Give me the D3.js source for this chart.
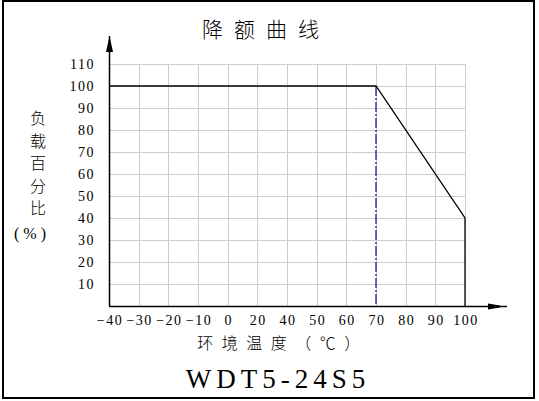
<!DOCTYPE html>
<html>
<head>
<meta charset="utf-8">
<script src="https://cdn.jsdelivr.net/npm/d3@7"></script>
<style>
  body { margin: 0; background: #fff; }
  svg text { fill: #000; }
</style>
</head>
<body>
<svg id="chart" width="539" height="401"></svg>
<script>
// category ticks along the temperature axis (not evenly spaced in value)
var xTicks = ["-40", "-30", "-20", "-10", "0", "20", "40", "50", "60", "70", "80", "90", "100"];
var yTicks = [10, 20, 30, 40, 50, 60, 70, 80, 90, 100, 110];
// derating curve: temperature category -> load %
var curveTemp = ["-40", "70", "100", "100"];
var curveLoad = [100, 100, 40, 0];
var kneeTemp = "70";
var kneeLoad = 100;

var title = "降额曲线";
var yLabel = ["负", "载", "百", "分", "比", "(%)"];
var xLabel = "环境温度（℃）";
var model = "WDT5-24S5";

var svg = d3.select('#chart');
var margin = {top: 64, left: 109, right: 465, bottom: 306};

var x = d3.scalePoint()
    .domain(xTicks)
    .range([margin.left, margin.right]);
var y = d3.scaleLinear()
    .domain([0, 110])
    .range([margin.bottom, margin.top]);

// outer frame
svg.append('rect')
    .attr('x', 3).attr('y', 1)
    .attr('width', 531).attr('height', 397)
    .attr('fill', 'none')
    .attr('stroke', '#000')
    .attr('stroke-width', 2);

// grid
svg.append('g').selectAll('line.h')
    .data(yTicks)
    .enter().append('line')
        .attr('x1', margin.left).attr('x2', margin.right)
        .attr('y1', function(d){ return y(d) + 0.5; })
        .attr('y2', function(d){ return y(d) + 0.5; })
        .attr('stroke', '#cccccc');
svg.append('g').selectAll('line.v')
    .data(xTicks.slice(1))
    .enter().append('line')
        .attr('x1', function(d){ return Math.round(x(d)) + 0.5; })
        .attr('x2', function(d){ return Math.round(x(d)) + 0.5; })
        .attr('y1', y(110)).attr('y2', y(0))
        .attr('stroke', '#cccccc');

// tick labels
svg.append('g').selectAll('text')
    .data(yTicks)
    .enter().append('text')
        .attr('x', 95)
        .attr('y', function(d){ return y(d) + 5; })
        .attr('text-anchor', 'end')
        .style('font-family', 'Liberation Serif')
        .style('font-size', '14px')
        .style('letter-spacing', '1.5px')
        .text(function(d){ return d; });
svg.append('g').selectAll('text')
    .data(xTicks)
    .enter().append('text')
        .attr('x', function(d){ return x(d) + 1; })
        .attr('y', y(0) + 19)
        .attr('text-anchor', 'middle')
        .style('font-family', 'Liberation Serif')
        .style('font-size', '14px')
        .style('letter-spacing', '1.5px')
        .text(function(d){ return d.replace('-', '\u2212'); });

// knee marker (dash-dot)
svg.append('line')
    .attr('x1', x(kneeTemp)).attr('x2', x(kneeTemp))
    .attr('y1', y(kneeLoad)).attr('y2', y(0))
    .attr('stroke', '#1c1c9c')
    .attr('stroke-width', 1.3)
    .attr('stroke-dasharray', '10,2,2,2');

// derating curve
var pts = curveTemp.map(function(t, i){ return [x(t), y(curveLoad[i])]; });
svg.append('path')
    .attr('d', d3.line()(pts))
    .attr('fill', 'none')
    .attr('stroke', '#000')
    .attr('stroke-width', 1.3);

// axes with arrows
svg.append('line')
    .attr('x1', margin.left + 0.5).attr('x2', margin.left + 0.5)
    .attr('y1', y(0)).attr('y2', 36)
    .attr('stroke', '#000').attr('stroke-width', 1.5);
svg.append('path')
    .attr('d', 'M' + (margin.left + 0.5) + ',36 L' + (margin.left - 3) + ',52 L' + (margin.left + 4) + ',52 Z')
    .attr('fill', '#000');
svg.append('line')
    .attr('x1', margin.left).attr('x2', 507)
    .attr('y1', y(0) + 0.5).attr('y2', y(0) + 0.5)
    .attr('stroke', '#000').attr('stroke-width', 1.5);
svg.append('path')
    .attr('d', 'M488,' + (y(0) - 2.5) + ' L500,' + (y(0) - 0.5) + ' L500,' + (y(0) + 1.5) + ' L488,' + (y(0) + 3.5) + ' Z')
    .attr('fill', '#000');

// titles
svg.append('text')
    .attr('x', 266).attr('y', 37)
    .attr('text-anchor', 'middle')
    .style('font-family', 'Noto Sans CJK SC')
    .style('font-weight', '300')
    .style('font-size', '21px')
    .style('letter-spacing', '11px')
    .text(title);

svg.append('g').selectAll('text')
    .data(yLabel)
    .enter().append('text')
        .attr('x', function(d){ return d.length > 1 ? 32 : 38; })
        .attr('y', function(d, i){ return 124 + i * 22.6 + (i == 5 ? 2 : 0); })
        .attr('text-anchor', 'middle')
        .style('font-family', 'Liberation Serif')
        .style('font-size', '16px')
        .style('letter-spacing', function(d){ return d.length > 1 ? '4px' : '0px'; })
        .style('font-family', function(d){ return d.length > 1 ? 'Liberation Serif' : 'Noto Sans CJK SC'; })
        .style('font-weight', function(d){ return d.length > 1 ? '400' : '300'; })
        .text(function(d){ return d; });

svg.append('text')
    .attr('x', 283).attr('y', 349)
    .attr('text-anchor', 'middle')
    .style('font-family', 'Noto Sans CJK SC')
    .style('font-weight', '300')
    .style('font-size', '16px')
    .style('letter-spacing', '8.5px')
    .text(xLabel);

svg.append('text')
    .attr('x', 278).attr('y', 388)
    .attr('text-anchor', 'middle')
    .style('font-family', 'Liberation Serif')
    .style('font-size', '27px')
    .style('letter-spacing', '5px')
    .text(model);
</script>
</body>
</html>
